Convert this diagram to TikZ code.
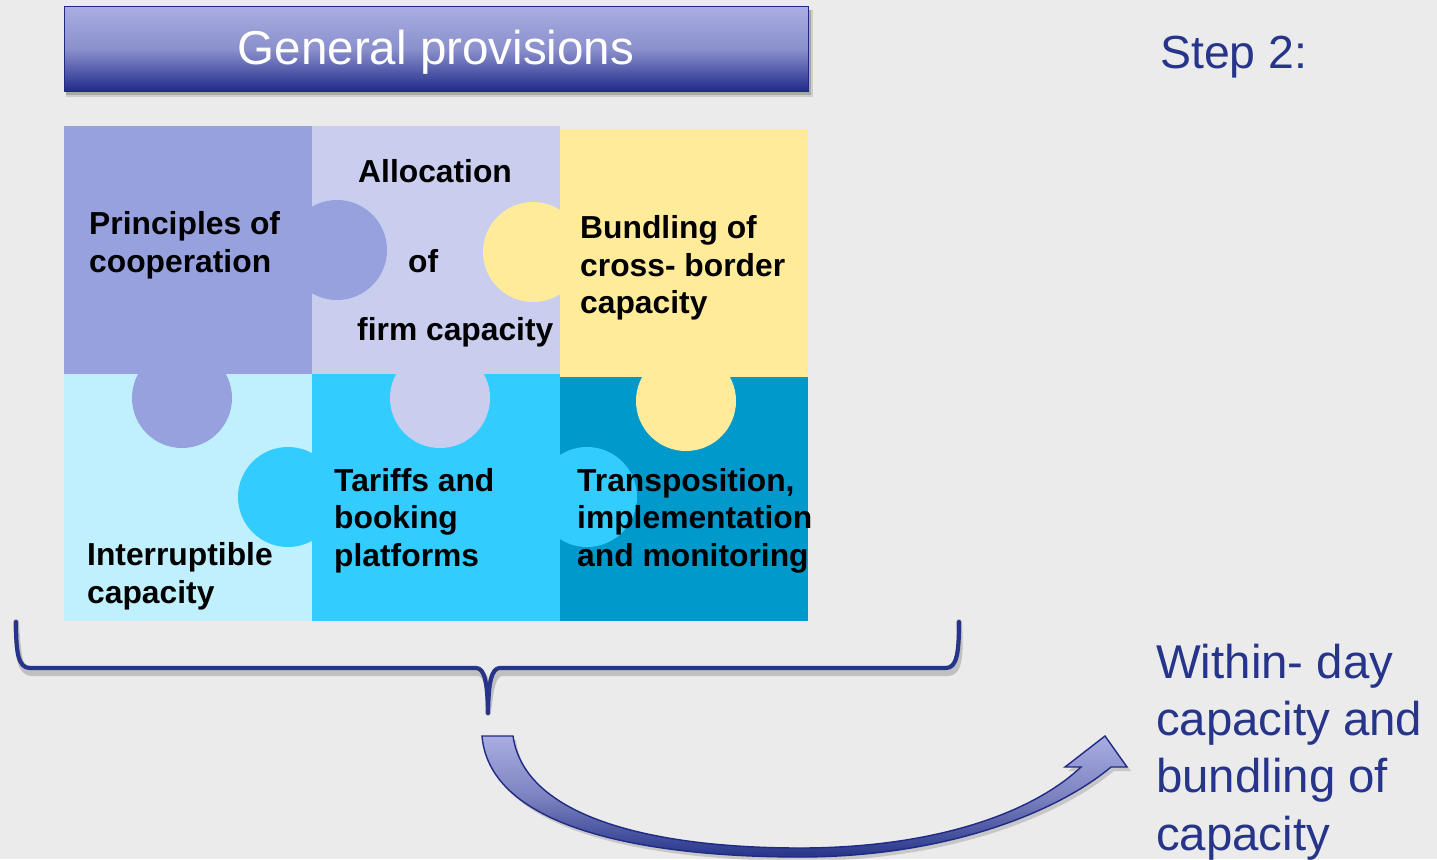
\documentclass[tikz,border=0pt]{standalone}
\usepackage{fontspec}
\setmainfont{Liberation Sans}
\definecolor{bg}{HTML}{EBEBEB}
\definecolor{pA}{HTML}{96A1DE}
\definecolor{pB}{HTML}{C9CDEE}
\definecolor{pC}{HTML}{FFEB99}
\definecolor{pD}{HTML}{C0F0FE}
\definecolor{pE}{HTML}{33CCFF}
\definecolor{pF}{HTML}{0099CC}
\definecolor{navy}{HTML}{26358A}
\definecolor{navyline}{HTML}{1F2A85}
\definecolor{hdtop}{HTML}{A9ADE2}
\definecolor{hdmid}{HTML}{8A90CC}
\definecolor{hdbot}{HTML}{1F2A8A}
\definecolor{armid}{HTML}{7D83C0}
\begin{document}
\begin{tikzpicture}[x=1pt,y=-1pt,
  ptext/.style={font=\fontsize{31.8}{38}\selectfont\bfseries, text=black, anchor=base west, inner sep=0pt},
  btext/.style={font=\fontsize{47.4}{57}\selectfont, text=navy, anchor=base west, inner sep=0pt},
  tab/.style={radius=50}]
\useasboundingbox (0,0) rectangle (1437,859);
\fill[bg] (0,0) rectangle (1437,859);

% header
\fill[black,opacity=0.12] (66,10) rectangle (813,97);
\fill[black,opacity=0.18] (66,10) rectangle (811,95);
\node[draw=navyline, line width=1.2pt, top color=hdtop, bottom color=hdbot, middle color=hdmid,
  minimum width=744pt, minimum height=85pt, inner sep=0pt, anchor=north west] (hdr) at (64,6) {};
\node[font=\fontsize{47.5}{57}\selectfont, text=white, anchor=base, inner sep=0pt] (hdrtxt) at (436,65) {General provisions};

% step label
\node[font=\fontsize{46.4}{56}\selectfont, text=navy, anchor=base west, inner sep=0pt] (step) at (1160,69) {Step 2:};

% puzzle pieces
\fill[pA] (64,126) rectangle (312,374);
\fill[pB] (312,126) rectangle (560,374);
\fill[pC] (560,129) rectangle (808,377);
\fill[pD] (64,374) rectangle (312,621);
\fill[pE] (312,374) rectangle (560,621);
\fill[pF] (560,377) rectangle (808,621);
% tabs
\fill[pA] (337,250) circle[tab];
\fill[pC] (533,252) circle[tab];
\fill[pA] (182,398) circle[tab];
\fill[pB] (440,398) circle[tab];
\fill[pC] (686,401) circle[tab];
\fill[pE] (288,497) circle[tab];
\fill[pE] (587,497) circle[tab];

% puzzle texts
\node[ptext] (t1a) at (89,234) {Principles of};
\node[ptext] (t1b) at (89,272) {cooperation};
\node[ptext] (t2a) at (358,182) {Allocation};
\node[ptext] (t2b) at (408,272) {of};
\node[ptext] (t2c) at (357,340) {firm capacity};
\node[ptext] (t3a) at (580,238) {Bundling of};
\node[ptext] (t3b) at (580,276) {cross- border};
\node[ptext] (t3c) at (580,313) {capacity};
\node[ptext] (t4a) at (87,565) {Interruptible};
\node[ptext] (t4b) at (87,603) {capacity};
\node[ptext] (t5a) at (334,491) {Tariffs and};
\node[ptext] (t5b) at (334,528) {booking};
\node[ptext] (t5c) at (334,566) {platforms};
\node[ptext] (t6a) at (577,491) {Transposition,};
\node[ptext] (t6b) at (577,528) {implementation};
\node[ptext] (t6c) at (577,566) {and monitoring};

% brace
\coordinate (bl) at (16,622);
\coordinate (bm) at (488,713);
\coordinate (br) at (959,622);
\def\bracepath{(bl) .. controls (16,652) and (18,668) .. (30,668) -- (476,668)
  .. controls (485,668) and (487.5,684) .. (bm)
  .. controls (488.5,684) and (491,668) .. (500,668) -- (946,668)
  .. controls (957,668) and (959,652) .. (br)}
\begin{scope}[shift={(2,5)}]
\draw[black,opacity=0.18,line width=6pt,line cap=round,line join=round] \bracepath;
\end{scope}
\draw[navy,line width=4.2pt,line cap=round,line join=round] \bracepath;

% curved block arrow
\coordinate (as) at (482,736);
\coordinate (tip) at (1105,736);
\fill[black,opacity=0.15] (485,740) .. controls (493,834) and (653,861) .. (803,861)
  .. controls (953,861) and (1063,814) .. (1114,771) -- (1131,771) -- (1108,740) -- (1068,771) -- (1084,771)
  .. controls (1033,819) and (933,852) .. (803,852)
  .. controls (663,852) and (528,824) .. (516,740) -- cycle;
\draw[navyline, line width=1.4pt, line join=miter, top color=hdtop, bottom color=navy, middle color=armid]
  (as) .. controls (490,830) and (650,857) .. (800,857)
  .. controls (950,857) and (1060,810) .. (1111,767) -- (1127,767) -- (tip) -- (1065,767) -- (1081,767)
  .. controls (1030,815) and (930,848) .. (800,848)
  .. controls (660,848) and (525,820) .. (513,736) -- cycle;

% right text
\node[btext] (w1) at (1156,678) {Within- day};
\node[btext] (w2) at (1156,735) {capacity and};
\node[btext] (w3) at (1156,792) {bundling of};
\node[btext] (w4) at (1156,850) {capacity};
\end{tikzpicture}
\end{document}
